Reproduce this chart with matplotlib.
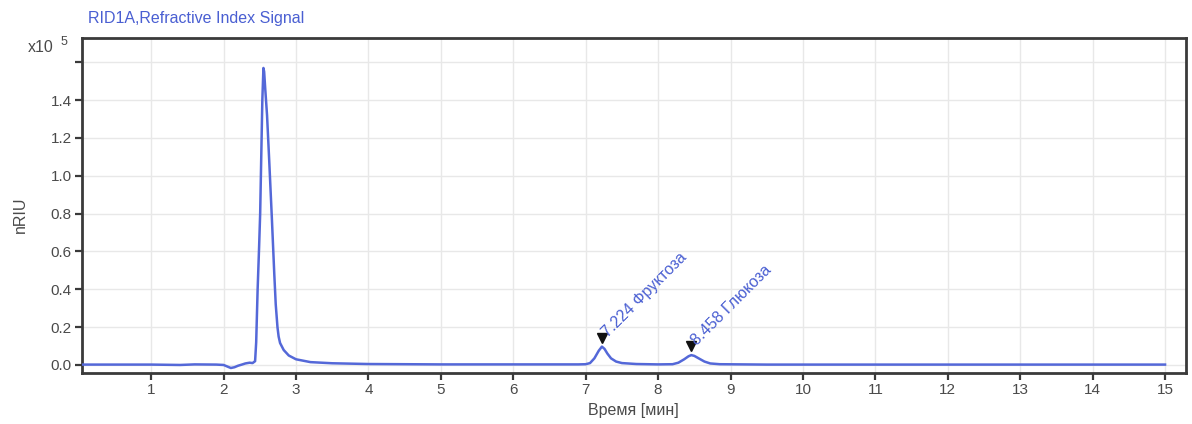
import matplotlib
matplotlib.use("Agg")
import matplotlib.pyplot as plt
import matplotlib.transforms as mtransforms

plt.rcParams['font.family'] = ['Liberation Sans', 'DejaVu Sans']

# Chromatogram (time in min, signal in x10^5 nRIU)
time_min = [0.04, 0.5, 1.0, 1.4, 1.6, 1.9, 2.0, 2.05, 2.1, 2.15, 2.2, 2.26, 2.3, 2.36, 2.4, 2.435,
            2.45, 2.47, 2.49, 2.505, 2.52, 2.535, 2.55, 2.56, 2.575, 2.6, 2.63, 2.666, 2.70,
            2.72, 2.744, 2.76, 2.78, 2.83, 2.9, 3.0, 3.2, 3.5, 4.0, 5.0, 6.0, 6.9,
            7.0, 7.06, 7.12, 7.18, 7.224, 7.26, 7.3, 7.35, 7.42, 7.5, 7.7, 8.0,
            8.2, 8.28, 8.36, 8.42, 8.458, 8.5, 8.56, 8.64, 8.72, 8.85, 9.5, 11.0, 13.0, 15.0]
signal = [0.002, 0.002, 0.002, 0.0, 0.003, 0.002, 0.0, -0.008, -0.016, -0.012, -0.004, 0.003, 0.008, 0.012, 0.01, 0.02,
          0.12, 0.40, 0.62, 0.80, 1.10, 1.40, 1.57, 1.55, 1.46, 1.32, 1.08, 0.78, 0.48,
          0.32, 0.20, 0.15, 0.116, 0.079, 0.05, 0.03, 0.015, 0.009, 0.005, 0.003, 0.003, 0.003,
          0.004, 0.01, 0.035, 0.075, 0.097, 0.085, 0.06, 0.035, 0.018, 0.01, 0.005, 0.003,
          0.004, 0.012, 0.03, 0.046, 0.052, 0.048, 0.035, 0.018, 0.008, 0.004, 0.002, 0.002, 0.002, 0.002]

peak_times = [7.224, 8.458]
peak_heights = [0.097, 0.052]
peak_labels = ["7.224 Фруктоза", "8.458 Глюкоза"]

x_ticks = list(range(1, 16))
y_ticks = [0.0, 0.2, 0.4, 0.6, 0.8, 1.0, 1.2, 1.4, 1.6]
y_tick_labels = ["0.0", "0.2", "0.4", "0.6", "0.8", "1.0", "1.2", "1.4", ""]

line_color = '#5468d8'
text_blue = '#4a5fd2'
axis_color = '#3a3a3a'
label_gray = '#4a4a4a'

fig = plt.figure(figsize=(11.92, 4.24), dpi=100)
ax = fig.add_axes([0.0685, 0.1196, 0.9265, 0.7915])

ax.plot(time_min, signal, color=line_color, lw=1.8, zorder=3)

ax.set_xlim(0.04, 15.29)
ax.set_ylim(-0.044, 1.73)
ax.set_xticks(x_ticks)
ax.set_xticklabels([str(v) for v in x_ticks])
ax.set_yticks(y_ticks)
ax.set_yticklabels(y_tick_labels)
ax.grid(True, color='#e8e8e8', lw=1.0, zorder=0)
ax.set_axisbelow(True)

for s in ax.spines.values():
    s.set_color(axis_color)
    s.set_linewidth(2.0)
ax.tick_params(axis='both', direction='out', length=5, width=1.6, color=axis_color,
               labelsize=11, labelcolor=label_gray, pad=2)

m_off = mtransforms.ScaledTranslation(0, 6.5 / 72, fig.dpi_scale_trans)
t_off = mtransforms.ScaledTranslation(5.5 / 72, 5 / 72, fig.dpi_scale_trans)
for t, h, lab in zip(peak_times, peak_heights, peak_labels):
    ax.plot([t], [h], marker='v', color='#111111', markersize=7, linestyle='none',
            transform=ax.transData + m_off, zorder=4)
    ax.text(t, h, lab, rotation=45, rotation_mode='anchor', ha='left', va='bottom',
            fontsize=11.5, color=text_blue, transform=ax.transData + t_off, zorder=5)

fig.text(88 / 1192, 1 - 18 / 424, "RID1A,Refractive Index Signal", fontsize=11.5, color=text_blue,
         ha='left', va='center')
fig.text(28 / 1192, 1 - 48 / 424, "x10", fontsize=11.5, color=label_gray, ha='left', va='center')
fig.text(61 / 1192, 1 - 42 / 424, "5", fontsize=9, color=label_gray, ha='left', va='center')
fig.text(20 / 1192, 1 - 215 / 424, "nRIU", fontsize=11.5, color=label_gray, rotation=90,
         ha='center', va='center')
fig.text(633 / 1192, 1 - 410 / 424, "Время [мин]", fontsize=11.5, color=label_gray,
         ha='center', va='center')

fig.savefig("out.png", dpi=100)
